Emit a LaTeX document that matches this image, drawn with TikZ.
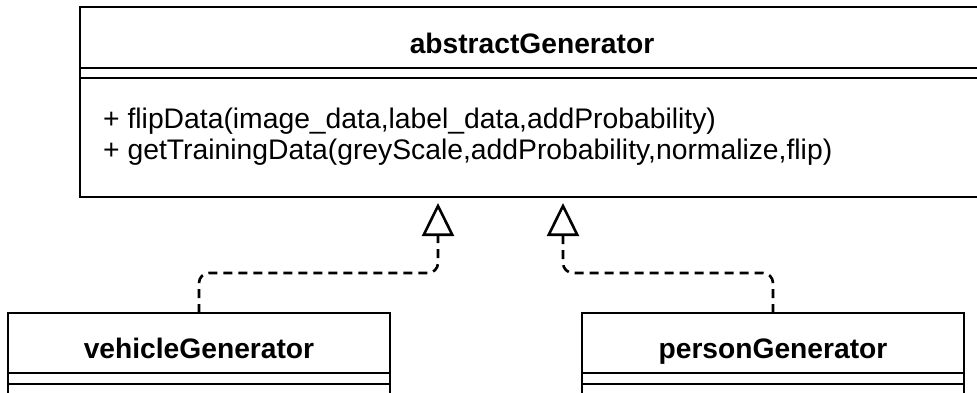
\documentclass[tikz,border=0pt]{standalone}
\usepackage{fontspec}
\setmainfont{Liberation Sans}
\usetikzlibrary{arrows.meta,calc}

\tikzset{
  umlbox/.style={draw=black, line width=2.6pt, fill=white, inner sep=0pt,
                 outer sep=0pt, anchor=north west},
  compline/.style={line width=2.6pt},
  classname/.style={font=\fontsize{28.2}{34}\selectfont\bfseries, anchor=base,
                    inner sep=0pt},
  member/.style={font=\fontsize{28.3}{34}\selectfont, anchor=base west,
                 inner sep=0pt},
  realize/.style={line width=2.6pt, dash pattern=on 9pt off 6pt,
                  rounded corners=10pt, shorten >=6pt,
                  -{Triangle[open, length=33pt, width=32pt]}},
}

\begin{document}
\begin{tikzpicture}[x=1pt, y=-1pt]
  \useasboundingbox (0,0) rectangle (977,392);
  \clip (0,0) rectangle (977,392);

  % abstract base class
  \node[umlbox, minimum width=904pt, minimum height=190pt] (abs) at (80,7) {};
  \draw[compline] ($(abs.north west)+(0,61)$) -- ($(abs.north east)+(0,61)$);
  \draw[compline] ($(abs.north west)+(0,71)$) -- ($(abs.north east)+(0,71)$);
  \node[classname] (absName) at ($(abs.north)+(0,46)$) {abstractGenerator};
  \node[member] (m1) at (103,128) {+ flipData(image\_data,label\_data,addProbability)};
  \node[member] (m2) at (103,159) {+ getTrainingData(greyScale,addProbability,normalize,flip)};

  % subclasses
  \node[umlbox, minimum width=382pt, minimum height=130pt] (veh) at (8,313) {};
  \draw[compline] ($(veh.north west)+(0,60)$) -- ($(veh.north east)+(0,60)$);
  \draw[compline] ($(veh.north west)+(0,71)$) -- ($(veh.north east)+(0,71)$);
  \node[classname] (vehName) at ($(veh.north)+(0,45)$) {vehicleGenerator};

  \node[umlbox, minimum width=382pt, minimum height=130pt] (per) at (582,313) {};
  \draw[compline] ($(per.north west)+(0,60)$) -- ($(per.north east)+(0,60)$);
  \draw[compline] ($(per.north west)+(0,71)$) -- ($(per.north east)+(0,71)$);
  \node[classname] (perName) at ($(per.north)+(0,45)$) {personGenerator};

  % generalisation arrows
  \coordinate (h1) at ($(abs.south west)+(358,0)$);
  \coordinate (h2) at ($(abs.south west)+(483,0)$);
  \draw[realize] (veh.north) |- ($(h1)+(0,76)$) -- (h1);
  \draw[realize] (per.north) |- ($(h2)+(0,76)$) -- (h2);
\end{tikzpicture}
\end{document}
